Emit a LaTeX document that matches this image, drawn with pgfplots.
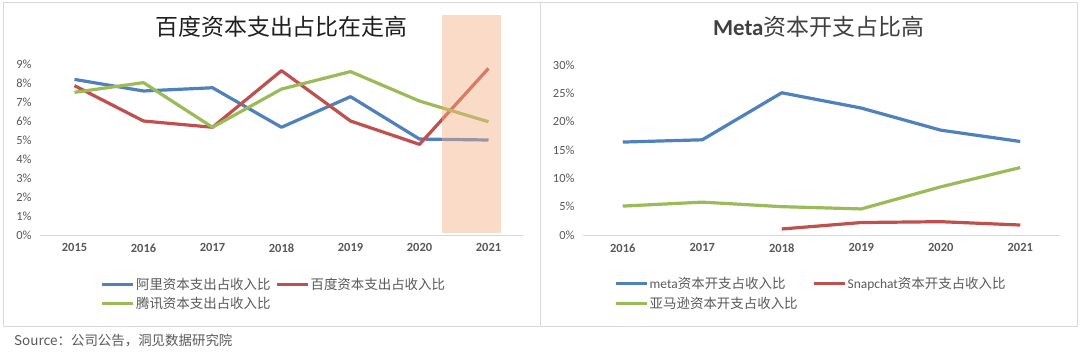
\documentclass[border=0pt]{standalone}
\usepackage{pgfplots}
\pgfplotsset{compat=1.18}
\usepackage{fontspec}
\setmainfont{Carlito}
\newfontfamily\cjk{Noto Sans CJK SC}
\newfontfamily\carl{Carlito}
\definecolor{cblue}{HTML}{4F81BD}
\definecolor{cred}{HTML}{C0504D}
\definecolor{cgreen}{HTML}{9BBB59}
\definecolor{tgray}{HTML}{595959}
\definecolor{lgray}{HTML}{D9D9D9}
\definecolor{peach}{HTML}{F4B183}
\pgfplotsset{
  base/.style={
    scale only axis,
    axis x line*=bottom,
    axis y line*=left,
    x axis line style={draw=lgray, line width=1bp, -},
    y axis line style={draw=none},
    major tick length=0pt,
    tick label style={text=tgray, font=\fontsize{12.5}{14}\selectfont},
    xticklabel style={font=\bfseries\fontsize{12.5}{14}\selectfont, yshift=-5bp},
    yticklabel style={xshift=-5bp},
    clip=false,
    legend columns=2,
    legend cell align=left,
    legend image code/.code={\draw[##1, line width=3bp] (0bp,0bp) -- (31bp,0bp);},
    every axis plot/.append style={line width=3.2bp, line join=round, mark=none},
  },
}
\begin{document}
\begin{tikzpicture}[x=1bp,y=1bp]
\path[use as bounding box, fill=white] (0,0) rectangle (1080,352);
% panel borders
\draw[lgray, line width=1bp] (3,26) rectangle (540,349);
\draw[lgray, line width=1bp] (540,26) rectangle (1077,349);
% titles
\node[text=black!88, font=\cjk\fontsize{23}{26}\selectfont] at (281.5,325) {百度资本支出占比在走高};
\node[text=black!75, font=\fontsize{23}{26}\selectfont] at (818.5,325) {\textbf{Meta}{\cjk 资本开支占比高}};
% source
\node[anchor=west, text=tgray, font=\cjk\fontsize{13.5}{15}\selectfont, inner sep=0pt] at (14,11) {Source：公司公告，洞见数据研究院};

\begin{axis}[base,
  at={(40bp,117bp)}, anchor=south west,
  width=483bp, height=171bp,
  xmin=2014.5, xmax=2021.5, ymin=0, ymax=9,
  xtick={2015,2016,2017,2018,2019,2020,2021},
  xticklabels={2015,2016,2017,2018,2019,2020,2021},
  ytick={0,1,2,3,4,5,6,7,8,9},
  yticklabels={0\%,1\%,2\%,3\%,4\%,5\%,6\%,7\%,8\%,9\%},
  legend style={at={(0.125,-0.24)}, anchor=north west, draw=none, fill=none,
    inner sep=0pt, row sep=4bp, font=\cjk\fontsize{13.5}{15}\selectfont, text=tgray,
    nodes={inner sep=1.5bp},
    /tikz/column 2/.style={column sep=3bp}},
]
\addplot[cblue] coordinates {(2015,8.19) (2016,7.58) (2017,7.75) (2018,5.67) (2019,7.28) (2020,5.05) (2021,5.00)};
\addlegendentry{阿里资本支出占收入比}
\addplot[cred] coordinates {(2015,7.86) (2016,6.00) (2017,5.67) (2018,8.65) (2019,6.00) (2020,4.77) (2021,8.77)};
\addlegendentry{百度资本支出占收入比}
\addplot[cgreen] coordinates {(2015,7.51) (2016,8.02) (2017,5.67) (2018,7.68) (2019,8.60) (2020,7.05) (2021,5.96)};
\addlegendentry{腾讯资本支出占收入比}
\fill[peach, opacity=0.45] (axis cs:2020.32,0.1) rectangle (axis cs:2021.18,11.6);
\end{axis}

\begin{axis}[base,
  at={(583bp,117bp)}, anchor=south west,
  width=477bp, height=170bp,
  xmin=2015.5, xmax=2021.5, ymin=0, ymax=30,
  xtick={2016,2017,2018,2019,2020,2021},
  xticklabels={2016,2017,2018,2019,2020,2021},
  ytick={0,5,10,15,20,25,30},
  yticklabels={0\%,5\%,10\%,15\%,20\%,25\%,30\%},
  legend style={at={(0.065,-0.24)}, anchor=north west, draw=none, fill=none,
    inner sep=0pt, row sep=4bp, font=\cjk\fontsize{13.5}{15}\selectfont, text=tgray,
    nodes={inner sep=1.5bp},
    /tikz/column 2/.style={column sep=13bp}},
]
\addplot[cblue] coordinates {(2016,16.4) (2017,16.8) (2018,25.1) (2019,22.4) (2020,18.5) (2021,16.5)};
\addlegendentry{{\carl meta}资本开支占收入比}
\addplot[cred] coordinates {(2018,1.06) (2019,2.2) (2020,2.35) (2021,1.76)};
\addlegendentry{{\carl Snapchat}资本开支占收入比}
\addplot[cgreen] coordinates {(2016,5.1) (2017,5.8) (2018,5.0) (2019,4.6) (2020,8.5) (2021,11.9)};
\addlegendentry{亚马逊资本开支占收入比}
\end{axis}
\end{tikzpicture}
\end{document}
